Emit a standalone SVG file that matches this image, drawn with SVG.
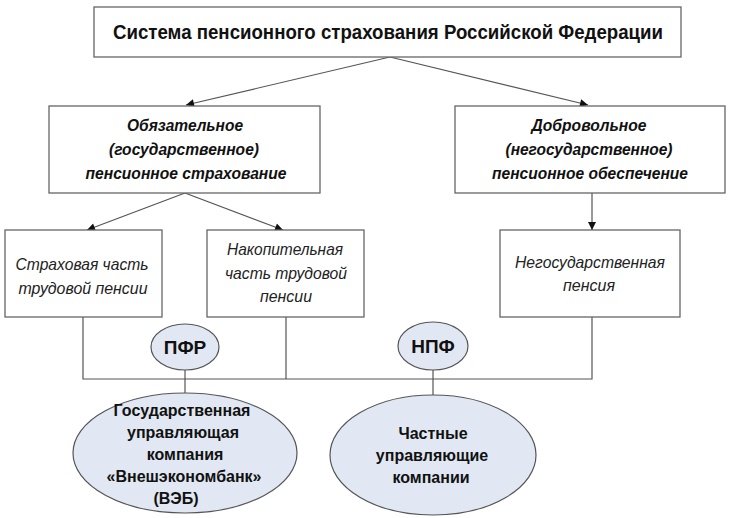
<svg xmlns="http://www.w3.org/2000/svg" width="730" height="518" viewBox="0 0 730 518">
<defs>
<marker id="arr" viewBox="0 0 10 10" refX="10" refY="5" markerWidth="9" markerHeight="8" markerUnits="userSpaceOnUse" orient="auto">
<path d="M0,0 L10,5 L0,10 z" fill="#111"/>
</marker>
<style>
.box{fill:#fff;stroke:#666;stroke-width:1.3}
.ell{fill:#e1e8f3;stroke:#555;stroke-width:1.2}
.ln{stroke:#555;stroke-width:1.2;fill:none}
.t{font-family:"Liberation Sans",Arial,sans-serif;text-anchor:middle;fill:#111}
.title{font-size:20px;font-weight:bold}
.bi{font-size:17px;font-weight:bold;font-style:italic}
.it{font-size:17px;font-style:italic;fill:#222}
.eb{font-size:16px;font-weight:bold}
.ab{font-size:19px;font-weight:bold}
</style>
</defs>
<rect width="730" height="518" fill="#fff"/>
<g id="connectors">
<line class="ln" x1="390" y1="57" x2="186" y2="105" marker-end="url(#arr)"/>
<line class="ln" x1="390" y1="57" x2="588" y2="105" marker-end="url(#arr)"/>
<line class="ln" x1="185" y1="193" x2="87" y2="230" marker-end="url(#arr)"/>
<line class="ln" x1="185" y1="193" x2="283" y2="230" marker-end="url(#arr)"/>
<line class="ln" x1="592" y1="193" x2="592" y2="230" marker-end="url(#arr)"/>
<polyline class="ln" points="83,317 83,379 592,379 592,317"/>
<line class="ln" x1="286" y1="317" x2="286" y2="379"/>
<line class="ln" x1="185" y1="370" x2="185" y2="393"/>
<line class="ln" x1="433" y1="370" x2="433" y2="395"/>
</g>
<g id="n-root">
<rect class="box" x="94" y="7" width="587" height="50"/>
<text class="t title" x="388" y="39" textLength="550" lengthAdjust="spacingAndGlyphs">Система пенсионного страхования Российской Федерации</text>
</g>
<g id="n-mandatory">
<rect class="box" x="49" y="106" width="271" height="87"/>
<text class="t bi" x="185" y="131" textLength="116" lengthAdjust="spacingAndGlyphs">Обязательное</text>
<text class="t bi" x="184" y="155" textLength="150" lengthAdjust="spacingAndGlyphs">(государственное)</text>
<text class="t bi" x="186" y="179" textLength="201" lengthAdjust="spacingAndGlyphs">пенсионное страхование</text>
</g>
<g id="n-voluntary">
<rect class="box" x="455" y="106" width="270" height="87"/>
<text class="t bi" x="589" y="131" textLength="115" lengthAdjust="spacingAndGlyphs">Добровольное</text>
<text class="t bi" x="589" y="155" textLength="167" lengthAdjust="spacingAndGlyphs">(негосударственное)</text>
<text class="t bi" x="590" y="179" textLength="196" lengthAdjust="spacingAndGlyphs">пенсионное обеспечение</text>
</g>
<g id="n-insurance">
<rect class="box" x="5" y="230" width="157" height="87"/>
<text class="t it" x="82" y="270" textLength="133" lengthAdjust="spacingAndGlyphs">Страховая часть</text>
<text class="t it" x="83" y="294" textLength="129" lengthAdjust="spacingAndGlyphs">трудовой пенсии</text>
</g>
<g id="n-funded">
<rect class="box" x="207" y="230" width="157" height="87"/>
<text class="t it" x="285" y="255" textLength="116" lengthAdjust="spacingAndGlyphs">Накопительная</text>
<text class="t it" x="286" y="279" textLength="122" lengthAdjust="spacingAndGlyphs">часть трудовой</text>
<text class="t it" x="286" y="302" textLength="52" lengthAdjust="spacingAndGlyphs">пенсии</text>
</g>
<g id="n-nonstate">
<rect class="box" x="500" y="230" width="180" height="87"/>
<text class="t it" x="590" y="268" textLength="150" lengthAdjust="spacingAndGlyphs">Негосударственная</text>
<text class="t it" x="589" y="291" textLength="52" lengthAdjust="spacingAndGlyphs">пенсия</text>
</g>
<g id="n-pfr">
<ellipse class="ell" cx="185" cy="347" rx="34" ry="23"/>
<text class="t ab" x="185" y="354">ПФР</text>
</g>
<g id="n-npf">
<ellipse class="ell" cx="433" cy="346" rx="35" ry="24"/>
<text class="t ab" x="433" y="353">НПФ</text>
</g>
<g id="n-veb">
<ellipse class="ell" cx="185" cy="453" rx="112" ry="60"/>
<text class="t eb" x="182" y="416">Государственная</text>
<text class="t eb" x="183" y="438">управляющая</text>
<text class="t eb" x="185" y="460">компания</text>
<text class="t eb" x="184" y="482">«Внешэкономбанк»</text>
<text class="t eb" x="176" y="504">(ВЭБ)</text>
</g>
<g id="n-private">
<ellipse class="ell" cx="433" cy="455" rx="103" ry="60"/>
<text class="t eb" x="433" y="439">Частные</text>
<text class="t eb" x="432" y="461">управляющие</text>
<text class="t eb" x="431" y="483">компании</text>
</g>
</svg>
